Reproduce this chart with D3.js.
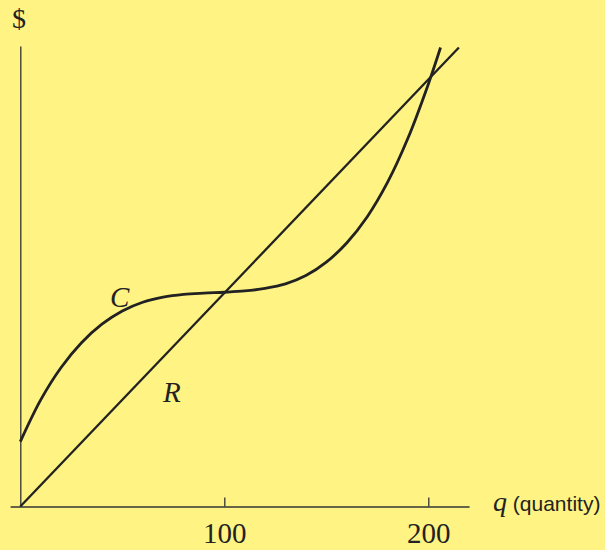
<!DOCTYPE html>
<html>
<head>
<meta charset="utf-8">
<script src="https://cdn.jsdelivr.net/npm/d3@7"></script>
<style>
  body { margin: 0; background: #fff383; }
  svg { display: block; }
  .axis path, .axis line { stroke: #333; stroke-width: 1.3; }
  .axis text { font-family: "Liberation Serif", serif; font-size: 29px; fill: #222; }
</style>
</head>
<body>
<div id="chart-area"></div>
<script>
// SVG size
let width = 605,
    height = 550;

// data
const qTicks = [100, 200];

// revenue R (straight line)
const revenueQ = [0, 215];
const revenueVal = [0, 215.3];

// cost C
const costQ   = [0, 10, 20, 30, 40, 50, 60, 70, 80, 90, 100, 110, 120, 130, 140, 150, 160, 170, 180, 190, 200, 206];
const costVal = [30.4, 50.0, 65.2, 76.8, 85.5, 91.7, 95.8, 98.2, 99.5, 100.1, 100.5,
                 101.1, 102.3, 104.4, 108.3, 114.6, 123.6, 135.8, 152.0, 172.7, 198.1, 215.3];

const costData = costQ.map((q, i) => ({ q: q, v: costVal[i] }));
const revenueData = revenueQ.map((q, i) => ({ q: q, v: revenueVal[i] }));

// scales
let xScale = d3.scaleLinear()
  .domain([-5, 220])
  .range([10.1, 469.1]);

let yScale = d3.scaleLinear()
  .domain([0, 216])
  .range([506.5, 46]);

let svg = d3.select("#chart-area")
  .append("svg")
  .attr("width", width)
  .attr("height", height);

svg.append("rect")
  .attr("width", width)
  .attr("height", height)
  .attr("fill", "#fff383");

// axes
let xAxis = d3.axisBottom(xScale)
  .tickValues(qTicks)
  .tickSizeInner(-9)
  .tickSizeOuter(0)
  .tickPadding(16);

let yAxis = d3.axisLeft(yScale)
  .tickValues([])
  .tickSizeOuter(0);

svg.append("g")
  .attr("class", "axis x-axis")
  .attr("transform", "translate(0," + yScale(0) + ")")
  .call(xAxis);

svg.append("g")
  .attr("class", "axis y-axis")
  .attr("transform", "translate(" + xScale(0) + ",0)")
  .call(yAxis);

// lines
let line = d3.line()
  .x(d => xScale(d.q))
  .y(d => yScale(d.v));

let smoothLine = d3.line()
  .x(d => xScale(d.q))
  .y(d => yScale(d.v))
  .curve(d3.curveCatmullRom);

svg.append("path")
  .datum(revenueData)
  .attr("fill", "none")
  .attr("stroke", "#222")
  .attr("stroke-width", 2.3)
  .attr("d", line);

svg.append("path")
  .datum(costData)
  .attr("fill", "none")
  .attr("stroke", "#222")
  .attr("stroke-width", 2.8)
  .attr("d", smoothLine);

// labels
svg.append("text")
  .text("$")
  .attr("x", 19)
  .attr("y", 28)
  .style("font-family", "Liberation Serif, serif")
  .style("font-size", "28px")
  .style("text-anchor", "middle")
  .style("fill", "#222");

svg.append("text")
  .text("C")
  .attr("x", 110)
  .attr("y", 307)
  .style("font-family", "Liberation Serif, serif")
  .style("font-style", "italic")
  .style("font-size", "29px")
  .style("fill", "#222");

svg.append("text")
  .text("R")
  .attr("x", 163)
  .attr("y", 401.5)
  .style("font-family", "Liberation Serif, serif")
  .style("font-style", "italic")
  .style("font-size", "29px")
  .style("fill", "#222");

let qLabel = svg.append("text")
  .attr("x", 493)
  .attr("y", 511)
  .style("fill", "#222");

qLabel.append("tspan")
  .text("q")
  .style("font-family", "Liberation Serif, serif")
  .style("font-style", "italic")
  .style("font-size", "28px");

qLabel.append("tspan")
  .text(" (quantity)")
  .style("font-family", "Liberation Sans, Arial, sans-serif")
  .style("font-size", "21px");
</script>
</body>
</html>
